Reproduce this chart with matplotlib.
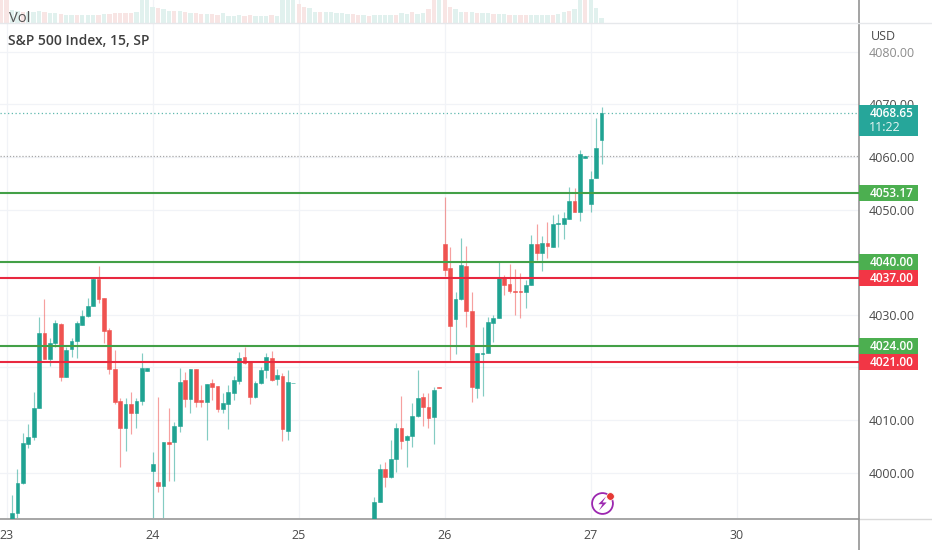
import numpy as np
import matplotlib
matplotlib.use('Agg')
import matplotlib.pyplot as plt
from matplotlib.patches import Rectangle

plt.rcParams['font.family'] = ['Open Sans', 'DejaVu Sans']

nan = np.nan
UP = '#1fa392'
DOWN = '#ef5350'
GRID = '#f1f3f7'
TEXT = '#4a4a4a'

day_labels = ['23', '24', '25', '26', '27', '30']
day_bars = [-1, 26, 53, 80, 107, 134]
price_ticks = [4000, 4010, 4020, 4030, 4040, 4050, 4060, 4070, 4080]
# 4020 and 4040 sit behind the level boxes
price_labels = ['4000.00', '4010.00', '', '4030.00', '', '4050.00', '4060.00', '4070.00', '4080.00']

# 15 min bars. bars 53-66 are below the visible range
opens = [3989.0, 3992.26, 3997.96, 4005.44, 4006.83, 4012.28, 4026.48, 4021.60, 4024.57, 4028.25,
         4018.24, 4023.50, 4025.02, 4028.06, 4029.77, 4031.67, 4036.87, 4033.13, 4027.11, 4019.63,
         4013.55, 4008.41, 4013.04, 4011.39, 4013.61, 4019.38, 4000.37, 3998.27, 3997.51, 4005.82,
         4005.75, 4008.86, 4017.60, 4013.93, 4019.69, 4013.74, 4013.48, 4017.03, 4016.46, 4012.09,
         4013.10, 4015.20, 4017.48, 4021.98, 4020.96, 4014.37, 4016.97, 4019.50, 4021.79, 4017.79,
         4018.43, 4007.97, 4016.97] + [nan] * 14 + [
         3989.0, 3994.48, 4000.69, 3999.10, 4002.65, 4008.48, 4006.20, 4006.90, 4010.76, 4014.44,
         4012.41, 4010.57, 4016.28, 4043.46, 4038.84, 4029.27, 4033.01, 4039.28, 4030.73, 4016.15,
         4022.61, 4022.80, 4028.51, 4029.46, 4037.25, 4035.86, 4034.53, 4034.53, 4034.40, 4035.67,
         4043.46, 4041.69, 4043.59, 4042.96, 4047.33, 4047.27, 4048.28, 4051.70, 4049.55, 4059.88,
         4051.07, 4055.95, 4063.23]
highs = [3995.74, 4000.62, 4007.46, 4009.18, 4015.26, 4029.64, 4032.94, 4025.53, 4029.01, 4028.38,
         4023.94, 4025.53, 4028.88, 4030.91, 4033.13, 4037.00, 4039.28, 4033.13, 4027.55, 4023.31,
         4014.12, 4014.12, 4015.26, 4014.12, 4022.67, 4019.82, 4003.85, 4014.31, 4005.88, 4012.22,
         4009.68, 4019.82, 4019.19, 4019.69, 4019.69, 4016.65, 4016.84, 4017.79, 4016.46, 4015.07,
         4016.65, 4018.43, 4022.86, 4023.94, 4020.96, 4017.41, 4020.14, 4022.67, 4023.05, 4019.63,
         4018.87, 4019.50, 4016.97] + [nan] * 14 + [
         3995.43, 4001.64, 4001.96, 4006.20, 4009.37, 4014.57, 4007.15, 4013.17, 4019.51, 4015.07,
         4015.07, 4016.34, 4016.28, 4052.46, 4042.83, 4034.40, 4044.54, 4043.08, 4034.40, 4022.68,
         4027.75, 4029.65, 4029.96, 4040.11, 4037.57, 4039.66, 4038.65, 4037.89, 4036.62, 4045.17,
         4047.26, 4045.05, 4047.58, 4048.98, 4049.17, 4049.48, 4054.36, 4054.05, 4061.33, 4060.19,
         4057.34, 4067.35, 4069.57]
lows = [3988.0, 3990.5, 3997.83, 4004.61, 4006.20, 4012.28, 4021.60, 4020.33, 4023.81, 4017.48,
        4018.11, 4022.04, 4021.85, 4028.06, 4029.64, 4031.67, 4032.31, 4024.70, 4018.74, 4012.98,
        4001.13, 4004.17, 4007.27, 4008.41, 4012.85, 4019.38, 3990.0, 3996.37, 3990.0, 3998.47,
        3998.47, 4007.78, 4012.53, 4011.27, 4012.53, 4012.53, 4006.20, 4013.80, 4011.58, 4011.39,
        4008.35, 4013.80, 4016.84, 4020.65, 4013.04, 4014.25, 4016.84, 4017.92, 4017.41, 4016.65,
        4006.07, 4006.20, 4016.97] + [nan] * 14 + [
        3989.0, 3994.35, 3997.33, 3999.04, 4000.18, 4004.43, 4001.13, 4004.93, 4010.64, 4008.86,
        4008.42, 4005.44, 4016.15, 4037.38, 4021.41, 4022.55, 4032.82, 4027.75, 4013.49, 4014.25,
        4014.57, 4022.68, 4024.77, 4029.46, 4033.77, 4034.21, 4029.96, 4029.46, 4031.23, 4035.67,
        4040.42, 4038.33, 4040.74, 4042.96, 4042.96, 4044.35, 4048.28, 4049.55, 4047.90, 4059.88,
        4049.61, 4055.95, 4058.67]
closes = [3992.26, 3997.96, 4005.56, 4006.70, 4012.28, 4026.48, 4021.60, 4024.57, 4028.38, 4018.24,
          4023.31, 4025.02, 4028.38, 4029.77, 4031.73, 4036.87, 4033.07, 4026.92, 4019.69, 4013.48,
          4008.41, 4013.04, 4011.39, 4013.61, 4019.82, 4019.82, 4001.70, 3997.45, 4005.82, 4005.50,
          4008.86, 4017.29, 4013.93, 4019.69, 4013.48, 4013.48, 4016.84, 4016.34, 4012.03, 4013.23,
          4015.26, 4017.60, 4021.79, 4020.77, 4014.44, 4016.97, 4019.57, 4021.98, 4017.60, 4018.49,
          4008.22, 4017.16, 4016.97] + [nan] * 14 + [
          3994.48, 4000.69, 3999.10, 4002.65, 4008.48, 4006.01, 4006.96, 4010.76, 4014.12, 4012.54,
          4010.45, 4015.71, 4016.15, 4038.58, 4027.87, 4033.01, 4039.41, 4030.73, 4016.21, 4022.68,
          4022.68, 4028.57, 4029.46, 4037.25, 4035.73, 4034.53, 4034.40, 4034.40, 4035.67, 4043.46,
          4041.69, 4043.59, 4043.02, 4047.33, 4047.39, 4048.34, 4051.70, 4049.55, 4060.51, 4060.19,
          4055.82, 4061.65, 4068.30]

# volume starts two bars before the first candle
volumes = [23, 23,
           13, 12, 11, 11, 11, 12, 11, 10, 10, 9,
           8, 8, 8, 8, 8, 8, 8, 9, 9, 10,
           10, 10, 10, 11, 24, 24, 16, 15, 14, 12,
           12, 12, 11, 10, 10, 9, 9, 9, 8, 10,
           7, 7, 8, 7, 8, 7, 7, 7, 8, 7,
           24, 24, 24, 19, 16, 15, 11, 11, 11, 11,
           10, 10, 9, 9, 8, 8, 7, 8, 8, 8,
           8, 8, 10, 9, 11, 9, 10, 14, 24, 24,
           24, 16, 14, 11, 11, 11, 10, 10, 10, 9,
           9, 9, 8, 8, 8, 8, 8, 8, 8, 8,
           8, 9, 11, 12, 14, 24, 24, 24, 15, 5]
vol_dirs = ('rr' 'ggrgggrggr' 'ggrgggrgrr' 'rrrggggrgg' 'rgrgrrgrrg'
            'gggrrgggrg' 'gggrrggrgg' 'gggrrgrggg' 'grggrggrrg' 'rrggrgrggr'
            'ggrgrrgggg' 'rggrggrggg')

levels_green = [4053.17, 4040.00, 4024.00]
levels_red = [4037.00, 4021.00]
level_names = ['4053.17', '4040.00', '4024.00', '4037.00', '4021.00']
last_price = 4068.3
prev_level = 4060.1

bars = np.arange(len(opens))
opens, highs, lows, closes = map(np.array, (opens, highs, lows, closes))
rising = closes >= opens
colors = np.where(rising, UP, DOWN)

fig = plt.figure(figsize=(9.32, 5.5), dpi=100)
ax = fig.add_axes([0, 31 / 550, 859 / 932, 496 / 550])
ax_vol = fig.add_axes([0, 527 / 550, 859 / 932, 23 / 550], sharex=ax)

# price pane
ax.set_xlim(-2.22, 156.6)
ax.set_ylim(3991.18, 4085.48)
ax.set_axisbelow(True)
ax.grid(color=GRID, lw=0.9)
ax.set_xticks(day_bars, day_labels)
ax.set_yticks(price_ticks, price_labels)
ax.yaxis.tick_right()
ax.tick_params(axis='x', length=0, pad=7, labelsize=9, labelcolor=TEXT)
ax.tick_params(axis='y', length=0, pad=7, labelsize=9, labelcolor=TEXT)
ax.get_yticklabels()[-1].set_color('#8c8c8c')
for side in ['top', 'left']:
    ax.spines[side].set_visible(False)
ax.spines['right'].set_color('#8a8a8a')
ax.spines['right'].set_linewidth(1.1)
ax.spines['bottom'].set_color('#a6a6a6')
ax.spines['bottom'].set_linewidth(1.4)

ok = ~np.isnan(opens)
ax.vlines(bars[ok], lows[ok], highs[ok], colors=colors[ok], lw=0.85, alpha=0.55, zorder=2)
ax.bar(bars[ok], np.abs(closes - opens)[ok], bottom=np.minimum(opens, closes)[ok], width=0.7,
       color=colors[ok], edgecolor=colors[ok], lw=0.4, zorder=3)

ax.axhline(last_price, color='#5fb8ae', lw=0.9, ls=(0, (1, 2)), zorder=2)
ax.axhline(prev_level, color='#a8a8a8', lw=0.9, ls=(0, (1, 1.5)), zorder=2)
for lev in levels_green:
    ax.axhline(lev, color='#43a047', lw=1.5, zorder=4)
for lev in levels_red:
    ax.axhline(lev, color='#e8283f', lw=1.5, zorder=4)

# boxes on the price scale
tr = ax.get_yaxis_transform()
box_w = 59 / 859
for lev, name in zip(levels_green + levels_red, level_names):
    c = '#4caf50' if lev in levels_green else '#f23645'
    ax.add_patch(Rectangle((1, lev - 1.55), box_w, 3.1, transform=tr, color=c, clip_on=False, lw=0, zorder=10))
    ax.text(1 + 32.5 / 859, lev - 0.1, name, transform=tr, color='white', fontsize=8.6, ha='center', va='center',
            fontweight='semibold', clip_on=False, zorder=11)
ax.add_patch(Rectangle((1, 4064.0), box_w, 31 / 5.26, transform=tr, color='#26a69a', clip_on=False, lw=0,
                       zorder=10))
ax.text(1 + 32.5 / 859, last_price - 0.1, '4068.65', transform=tr, color='white', fontsize=8.6, ha='center',
        va='center', fontweight='semibold', clip_on=False, zorder=11)
ax.text(1 + 26 / 859, 4065.6, '11:22', transform=tr, color='#e6f5f3', fontsize=9, ha='center', va='center',
        clip_on=False, zorder=11)

# event marker under the last bar
bolt = [(0.5, 1), (-0.6, -0.1), (0, -0.1), (-0.5, -1), (0.6, 0.15), (0, 0.15)]
ax.plot([109], [3994.2], marker='o', ms=15, mfc='white', mec='#9c27b0', mew=1.3, zorder=6, clip_on=False)
ax.plot([109], [3994.2], marker=bolt, ms=10, color='#9c27b0', mew=0, zorder=7)
ax.plot([110.55], [3995.55], marker='o', ms=5.5, mfc='#e53935', mec='white', mew=0.5, zorder=8)

# volume pane
vol_x = np.arange(len(volumes)) - 2
vol_cols = ['#e1f1ee' if d == 'g' else '#f8e5e4' for d in vol_dirs]
ax_vol.bar(vol_x, volumes, width=0.8, color=vol_cols)
ax_vol.set_ylim(0, 23)
ax_vol.set_yticks([])
ax_vol.set_axisbelow(True)
ax_vol.grid(axis='x', color=GRID, lw=0.9)
ax_vol.tick_params(axis='x', length=0, labelbottom=False)
for side in ['top', 'left', 'bottom']:
    ax_vol.spines[side].set_visible(False)
ax_vol.spines['right'].set_color('#8a8a8a')
ax_vol.spines['right'].set_linewidth(1.1)

# pane divider and scale lines running into the margins
fig.add_artist(plt.Line2D([0, 1], [527 / 550, 527 / 550], color='#e6e8eb', lw=1))
fig.add_artist(plt.Line2D([859 / 932, 1], [31 / 550, 31 / 550], color='#d9d9d9', lw=1))
fig.add_artist(plt.Line2D([859 / 932, 859 / 932], [0, 31 / 550], color='#8a8a8a', lw=1.1))

fig.text(9 / 932, 1 - 19 / 550, 'Vol', fontsize=10.5, color='#555555', va='center')
fig.text(8 / 932, 1 - 41 / 550, 'S&P 500 Index, 15, SP', fontsize=10, color='#3f3f3f', va='center',
         fontweight='semibold')
fig.text(871 / 932, 1 - 37 / 550, 'USD', fontsize=9, color=TEXT, va='center')

fig.savefig('out.png', dpi=100)
